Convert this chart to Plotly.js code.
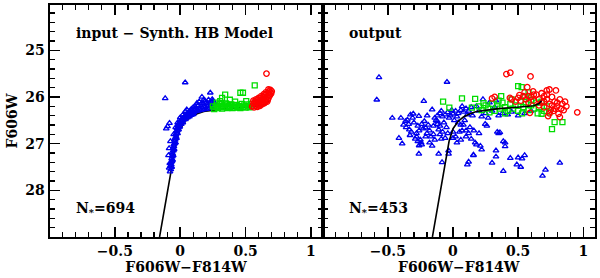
<!DOCTYPE html>
<html>
<head>
<meta charset="utf-8">
<script src="https://cdn.plot.ly/plotly-3.0.1.min.js"></script>
<style>html,body{margin:0;padding:0;background:#fff;}#chart{width:600px;height:278px;}</style>
</head>
<body>
<div id="chart"></div>
<script>
// ---- model line (ZAHB), same in both panels ----
const lineX = [-0.158, -0.12, -0.077, -0.05, -0.03, 0.0, 0.04, 0.08, 0.13, 0.18, 0.25, 0.35, 0.45, 0.55, 0.62, 0.66, 0.68];
const lineY = [29.0, 28.39, 27.7, 27.2, 26.95, 26.68, 26.52, 26.43, 26.36, 26.31, 26.28, 26.25, 26.23, 26.21, 26.19, 26.14, 26.08];

// ---- left panel: input (synthetic HB model) ----
const inBlueX = [-0.078,-0.072,-0.075,-0.068,-0.07,-0.063,-0.066,-0.06,-0.058,-0.062,-0.052,-0.055,-0.048,-0.05,-0.042,-0.045,-0.038,-0.04,-0.032,-0.035,-0.027,-0.03,-0.022,-0.025,-0.015,-0.018,-0.008,-0.01,0.0,0.003,0.01,0.015,0.02,0.025,0.03,0.035,0.045,0.05,0.06,0.065,0.075,0.08,0.09,0.095,0.105,0.11,0.12,0.13,0.14,0.15,0.16,0.17,0.18,0.19,0.2,0.21,0.22,0.23,0.24,0.25,0.26,0.255,
 -0.065,-0.058,-0.053,-0.046,-0.035,-0.028,-0.02,-0.012,-0.003,0.008,0.02,0.04,0.055,0.07,0.085,0.1,-0.085,-0.08,-0.09,-0.085,-0.075,
 0.038,-0.115,-0.082,-0.097,-0.107,0.166,0.18,0.23,0.217,0.115,0.128,0.04,0.05,0.145,0.16,0.19,0.2,0.235,0.245,0.1,0.085,0.07,0.02,0.0,-0.02,-0.035,-0.05,0.135,0.175,0.25,0.26,0.21];
const inBlueY = [27.6,27.55,27.48,27.45,27.4,27.38,27.32,27.28,27.22,27.18,27.15,27.1,27.06,27.02,27.0,26.95,26.92,26.88,26.85,26.8,26.78,26.74,26.72,26.68,26.66,26.62,26.6,26.56,26.55,26.5,26.52,26.47,26.5,26.44,26.46,26.41,26.42,26.38,26.4,26.35,26.37,26.33,26.35,26.3,26.33,26.28,26.31,26.27,26.3,26.25,26.28,26.23,26.27,26.22,26.26,26.2,26.25,26.18,26.24,26.2,26.23,26.15,
 27.5,27.35,27.25,27.12,26.98,26.88,26.78,26.7,26.64,26.58,26.55,26.48,26.44,26.42,26.39,26.37,27.52,27.42,27.25,27.1,26.95,
 25.69,26.03,26.56,26.63,26.68,26.0,26.06,25.91,26.06,26.2,26.13,26.31,26.27,26.1,26.15,26.08,26.12,26.1,26.05,26.22,26.26,26.3,26.38,26.44,26.55,26.65,26.8,26.18,26.14,26.08,26.12,26.14];

const inGreenX = [0.27,0.28,0.29,0.3,0.31,0.32,0.33,0.34,0.35,0.36,0.37,0.38,0.39,0.4,0.41,0.42,0.43,0.44,0.45,0.46,0.47,0.48,0.49,0.5,0.51,0.52,0.53,0.54,0.306,0.32,0.344,0.38,0.46,0.48,0.57,0.42,0.505,0.28,0.357,0.25,0.26,0.55];
const inGreenY = [26.22,26.18,26.24,26.15,26.21,26.25,26.18,26.22,26.14,26.24,26.19,26.22,26.16,26.24,26.2,26.23,26.17,26.22,26.19,26.24,26.15,26.21,26.18,26.23,26.16,26.2,26.22,26.15,26.09,26.02,25.95,26.06,25.91,25.91,25.75,26.1,26.09,26.12,26.16,26.2,26.26,26.19];

const inRedX = [0.55,0.56,0.565,0.57,0.575,0.58,0.585,0.59,0.595,0.6,0.605,0.61,0.615,0.62,0.625,0.63,0.635,0.64,0.645,0.65,0.655,0.66,0.665,0.67,0.675,0.68,0.685,0.69,0.695,0.7,0.66,0.62,0.64,0.6,0.58,0.56,0.67,0.65,0.63,0.61,0.59,0.69,0.68,0.675,0.655,0.645];
const inRedY = [26.2,26.15,26.22,26.1,26.18,26.13,26.2,26.07,26.15,26.1,26.18,26.03,26.12,26.07,26.16,26.0,26.1,26.04,26.13,25.96,26.06,26.0,26.1,25.92,26.02,25.88,25.97,25.85,25.93,25.88,25.5,25.98,25.94,26.02,26.05,26.08,26.06,26.09,26.14,26.19,26.21,25.9,25.95,25.84,25.9,26.0];

// ---- right panel: output (recovered) ----
const outBlueX = [-0.568,-0.585,-0.046,-0.224,-0.466,-0.40,-0.35,-0.326,-0.305,-0.31,-0.364,-0.16,-0.262,-0.198,
 -0.12,-0.1,-0.08,-0.06,-0.04,-0.02,0.0,0.02,0.04,0.06,0.08,0.1,0.12,0.14,-0.09,-0.03,0.03,0.07,0.11,-0.14,-0.01,
 -0.38,-0.36,-0.34,-0.335,-0.32,-0.27,-0.26,-0.24,-0.22,-0.21,-0.2,-0.13,-0.12,-0.1,-0.11,-0.08,-0.12,
 -0.415,-0.39,-0.28,-0.27,-0.25,-0.24,-0.26,-0.245,-0.17,-0.15,-0.1,-0.09,-0.18,-0.16,
 0.0,0.02,0.03,0.05,0.07,0.1,0.12,0.06,0.08,0.13,0.16,0.2,0.14,0.17,0.21,
 -0.262,-0.11,-0.034,-0.034,-0.084,0.12,0.11,0.157,0.18,0.22,0.157,0.33,0.33,0.30,0.40,0.44,0.5,0.55,0.53,0.49,0.52,0.386,0.71,0.687,0.82,0.247,0.26,0.34,0.35,0.36,0.386,0.4,
 0.23,0.28,0.33,0.18,0.2,0.25,0.3,0.35,0.38,0.42,0.45,0.5,0.55,0.6,0.22,0.27,0.15,0.32,
 -0.3,-0.28,-0.23,-0.19,-0.15,-0.07,-0.05,0.01,0.04,0.09,-0.29,-0.21,-0.14,-0.06,0.0,0.1,-0.33,-0.18,-0.04,0.06];
const outBlueY = [25.58,26.06,25.68,26.09,26.45,26.45,26.49,26.38,26.36,26.45,26.52,26.27,26.41,26.4,
 26.4,26.35,26.42,26.38,26.33,26.4,26.36,26.3,26.35,26.28,26.32,26.25,26.3,26.22,26.3,26.45,26.42,26.2,26.38,26.45,26.28,
 26.6,26.65,26.58,26.7,26.75,26.62,26.72,26.58,26.52,26.66,26.78,26.5,26.58,26.62,26.7,26.75,26.52,
 26.88,27.0,26.85,26.95,26.92,27.02,27.04,26.98,26.85,26.8,26.8,26.9,26.98,27.05,
 26.88,26.85,26.98,26.75,26.72,26.72,26.78,26.6,26.6,26.65,26.72,26.78,26.9,26.98,27.05,
 27.22,27.22,27.15,27.22,27.4,27.39,27.45,27.24,27.02,27.13,27.25,27.15,27.28,27.41,27.06,27.31,27.3,27.25,27.32,27.45,27.5,27.59,27.56,27.69,27.41,26.58,26.62,26.75,26.78,26.76,26.95,26.98,
 26.05,26.12,26.08,26.2,26.3,26.35,26.3,26.4,26.35,26.38,26.32,26.4,26.35,26.3,26.42,26.45,26.4,26.22,
 26.55,26.78,26.68,26.6,26.62,26.55,26.65,26.5,26.55,26.5,26.9,26.85,26.92,26.88,26.75,26.85,26.82,26.72,26.78,26.92];

const outGreenX = [-0.076,0.069,0.17,-0.028,0.145,0.37,0.5,0.527,0.58,0.6,0.68,0.68,0.78,0.84,0.76,0.234,
 0.2,0.22,0.25,0.27,0.3,0.32,0.34,0.36,0.38,0.4,0.42,0.44,0.46,0.48,0.5,0.52,0.54,0.56,0.58,0.6,0.62,0.64,0.66,0.7,0.72,0.45,0.55,0.35,0.28,0.4,0.53,0.65,0.74];
const outGreenY = [26.1,26.03,26.04,26.23,26.23,25.98,25.77,25.79,25.9,26.06,26.1,26.36,26.54,26.54,26.69,26.13,
 26.2,26.28,26.18,26.25,26.15,26.3,26.2,26.25,26.12,26.22,26.3,26.15,26.25,26.18,26.3,26.1,26.22,26.15,26.28,26.18,26.25,26.12,26.22,26.3,26.2,26.05,26.0,26.08,26.33,26.35,26.35,26.35,26.33];

const outRedX = [0.41,0.44,0.595,0.57,0.615,0.72,0.74,0.79,0.437,0.51,0.55,0.32,0.3,0.73,0.81,0.82,0.87,0.954,0.59,
 0.45,0.48,0.5,0.52,0.54,0.56,0.58,0.6,0.62,0.64,0.66,0.68,0.7,0.72,0.74,0.76,0.78,0.8,0.82,0.84,0.7,0.75,0.66,0.72,0.78,0.85,0.62,0.7,0.76,0.8,0.68,0.58,0.86,0.74,0.77,0.83];
const outRedY = [25.51,25.48,25.56,25.79,25.88,25.86,25.84,25.86,26.02,25.96,25.9,26.0,26.03,26.41,26.36,26.43,26.2,26.33,26.34,
 26.05,26.1,26.02,26.08,25.98,26.05,26.12,26.0,26.08,25.95,26.05,26.12,25.98,26.05,26.15,26.0,26.1,26.2,26.05,26.15,26.22,26.28,26.18,25.95,26.25,26.28,25.95,26.1,26.18,26.12,25.92,25.98,26.1,26.35,26.3,26.25];

// ---- axes ----
const xTickVals = [-0.5, 0, 0.5, 1];
const xTickText = ['\u22120.5', '0', '0.5', '1'];
const yTickVals = [25, 26, 27, 28];
const yTickText = ['25', '26', '27', '28'];

const BLUE = '#0000ee', GREEN = '#00dd00', RED = '#ff0000';
function pts(x, y, sym, col, size, xa, ya) {
  return {x: x, y: y, type: 'scatter', mode: 'markers', xaxis: xa, yaxis: ya,
    marker: {symbol: sym, size: size, color: col, line: {color: col, width: 1.3}}, hoverinfo: 'skip'};
}
function line(xa, ya) {
  return {x: lineX, y: lineY, type: 'scatter', mode: 'lines', xaxis: xa, yaxis: ya,
    line: {color: '#000', width: 1.6}, hoverinfo: 'skip'};
}
const data = [
  line('x', 'y'),
  pts(inBlueX, inBlueY, 'triangle-up-open', BLUE, 5, 'x', 'y'),
  pts(inGreenX, inGreenY, 'square-open', GREEN, 5, 'x', 'y'),
  pts(inRedX, inRedY, 'circle-open', RED, 5.5, 'x', 'y'),
  pts(outBlueX, outBlueY, 'triangle-up-open', BLUE, 5, 'x2', 'y2'),
  pts(outGreenX, outGreenY, 'square-open', GREEN, 5, 'x2', 'y2'),
  pts(outRedX, outRedY, 'circle-open', RED, 5.5, 'x2', 'y2'),
  line('x2', 'y2')
];

const FONT = {family: 'DejaVu Serif', size: 14, color: '#000', weight: 'bold'};
const yDom = [1 - 237/278, 1 - 5/278];
function xAxis(dom, anchor) {
  return {domain: dom, anchor: anchor, range: [-1.0, 1.09], showgrid: false, zeroline: false,
    showline: true, linecolor: '#000', linewidth: 2, mirror: 'ticks',
    ticks: 'inside', ticklen: 10, tickwidth: 1.5, tickcolor: '#000',
    tickmode: 'array', tickvals: xTickVals, ticktext: xTickText, tickfont: FONT,
    minor: {dtick: 0.1, ticks: 'inside', ticklen: 5, tickwidth: 1.2, tickcolor: '#000', showgrid: false},
    title: {text: 'F606W\u2212F814W', font: FONT, standoff: 2}};
}
function yAxis(anchor, labels) {
  return {domain: yDom, anchor: anchor, range: [29.0, 24.03], showgrid: false, zeroline: false,
    showline: true, linecolor: '#000', linewidth: 2, mirror: 'ticks',
    ticks: 'inside', ticklen: 10, tickwidth: 1.5, tickcolor: '#000',
    tickmode: 'array', tickvals: yTickVals, ticktext: yTickText, showticklabels: labels, tickfont: FONT,
    minor: {dtick: 0.2, ticks: 'inside', ticklen: 5, tickwidth: 1.2, tickcolor: '#000', showgrid: false},
    title: labels ? {text: 'F606W', font: FONT, standoff: 4} : {text: ''}};
}
const layout = {
  width: 600, height: 278, margin: {l: 0, r: 0, t: 0, b: 0},
  paper_bgcolor: '#fff', plot_bgcolor: '#fff', showlegend: false,
  xaxis: xAxis([49.5/600, 322.7/600], 'y'),
  yaxis: yAxis('x', true),
  xaxis2: xAxis([322.7/600, 595/600], 'y2'),
  yaxis2: yAxis('x2', false),
  annotations: [
    {xref: 'x', yref: 'y', x: -0.81, y: 24.63, xanchor: 'left', yanchor: 'middle', showarrow: false,
     text: 'input \u2212 Synth. HB Model', font: FONT},
    {xref: 'x2', yref: 'y2', x: -0.81, y: 24.63, xanchor: 'left', yanchor: 'middle', showarrow: false,
     text: 'output', font: FONT},
    {xref: 'x', yref: 'y', x: -0.81, y: 28.4, xanchor: 'left', yanchor: 'middle', showarrow: false,
     text: 'N<sub>*</sub>=694', font: FONT},
    {xref: 'x2', yref: 'y2', x: -0.81, y: 28.4, xanchor: 'left', yanchor: 'middle', showarrow: false,
     text: 'N<sub>*</sub>=453', font: FONT}
  ]
};
Plotly.newPlot('chart', data, layout, {staticPlot: true, displayModeBar: false});
</script>
</body>
</html>
